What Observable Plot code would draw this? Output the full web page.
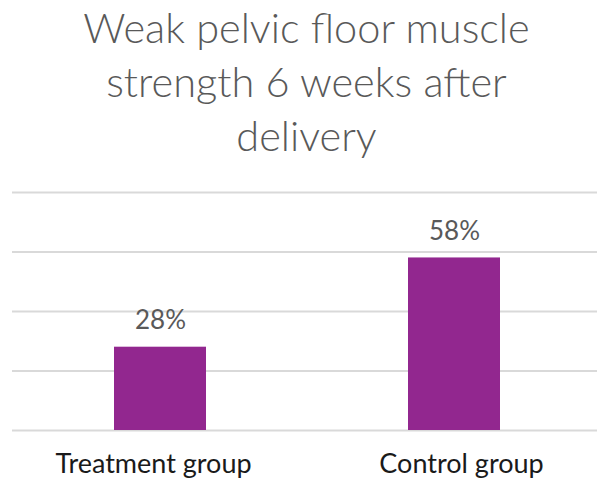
<!DOCTYPE html>
<html>
<head>
<meta charset="utf-8">
<script src="https://cdn.jsdelivr.net/npm/d3@7"></script>
<script src="https://cdn.jsdelivr.net/npm/@observablehq/plot@0.6"></script>
<style>
  html, body { margin: 0; padding: 0; background: #fff; overflow: hidden; }
  #title {
    width: 597px; text-align: center; font-family: Lato, "Open Sans", sans-serif;
    font-weight: 300; font-size: 41.5px; line-height: 54px; color: #595959;
    height: 162px; padding-top: 0px; box-sizing: border-box; margin-left: 8px;
  }
</style>
</head>
<body>
<div id="title">Weak pelvic floor muscle<br>strength 6 weeks after<br>delivery</div>
<div id="chart"></div>
<script>
const categories = ["Treatment group", "Control group"];
const values = [28, 58];
const labels = ["28%", "58%"];
const gridTicks = [0, 20, 40, 60, 80];

const data = categories.map((c, i) => ({group: c, value: values[i], label: labels[i]}));

const axisStyle = {tickSize: 0, tickPadding: 23, fontSize: 27, color: "#1a1a1a", label: null};

const chart = Plot.plot({
  width: 597,
  height: 316,
  marginTop: 30,
  marginBottom: 48,
  marginLeft: 12,
  marginRight: -4,
  style: {fontFamily: "Lato, 'Open Sans', sans-serif", background: "#fff"},
  x: {domain: categories, paddingInner: 0.6876, paddingOuter: 0.3438, label: null},
  y: {domain: [0, 80], axis: null},
  marks: [
    Plot.ruleY(gridTicks, {stroke: "#d9d9d9", strokeWidth: 2}),
    Plot.barY(data, {x: "group", y: "value", fill: "#92278f"}),
    Plot.text(data, {x: "group", y: "value", text: "label", lineAnchor: "bottom", dy: -18, fontSize: 26, fill: "#595959"}),
    Plot.axisX([categories[0]], {...axisStyle, dx: -7}),
    Plot.axisX([categories[1]], {...axisStyle, dx: 7})
  ]
});
document.getElementById("chart").appendChild(chart);
</script>
</body>
</html>
